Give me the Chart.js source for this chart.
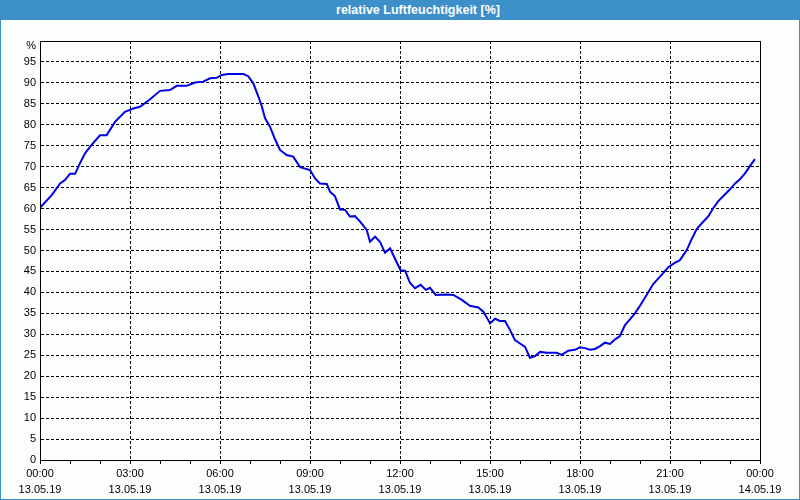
<!DOCTYPE html>
<html>
<head>
<meta charset="utf-8">
<script src="https://cdn.jsdelivr.net/npm/chart.js@4"></script>
<style>
  body { margin:0; background:#fcfefe; }
  #wrap { position:relative; width:800px; height:500px; }
  #head { position:absolute; left:0; top:0; width:800px; height:20px; background:#3c8fc8;
          color:#fff; font:bold 12.5px "Liberation Sans", sans-serif; line-height:20px;
          text-align:center; box-sizing:border-box; padding-left:36px; }
  #frame { position:absolute; left:0; top:0; width:800px; height:500px; box-sizing:border-box;
           border:1px solid #3c8fc8; pointer-events:none; }
  canvas { position:absolute; left:0; top:0; }
</style>
</head>
<body>
<div id="wrap">
  <canvas id="myChart" width="800" height="500"></canvas>
  <div id="head">relative Luftfeuchtigkeit [%]</div>
  <div id="frame"></div>
</div>
<script>
// hours after 13.05.19 00:00
const hours = [0,0.39,0.67,0.83,1.0,1.17,1.33,1.5,1.72,2.0,2.22,2.5,2.83,3.11,3.33,3.67,4.0,4.33,4.56,4.89,
  5.17,5.44,5.67,5.89,6.06,6.28,6.78,6.94,7.11,7.28,7.39,7.5,7.67,7.83,8.0,8.22,8.44,8.67,9.0,9.17,
  9.33,9.56,9.67,9.83,10.0,10.17,10.33,10.5,10.67,10.89,11.0,11.17,11.33,11.5,11.67,11.83,12.02,12.17,12.33,12.5,
  12.69,12.86,13.0,13.19,13.56,13.78,14.06,14.33,14.61,14.78,14.91,15.0,15.17,15.33,15.5,15.67,15.83,16.0,16.17,16.33,
  16.5,16.67,16.89,17.22,17.39,17.61,17.83,18.0,18.17,18.33,18.5,18.67,18.83,19.0,19.17,19.33,19.5,19.67,19.83,20.0,
  20.22,20.44,20.72,20.94,21.17,21.33,21.56,21.72,21.89,22.06,22.28,22.44,22.61,22.78,23.0,23.17,23.33,23.5,23.67,23.83];
const humidity = [60.2,63.2,66.0,66.8,68.3,68.3,70.8,73.2,75.2,77.5,77.5,80.7,83.1,83.9,84.3,86.1,88.1,88.3,89.3,89.3,
  90.1,90.3,91.1,91.2,91.9,92.1,92.1,91.6,89.9,86.7,84.5,81.6,79.5,76.6,74.0,72.8,72.4,69.9,69.2,67.2,
  66.0,65.9,64.0,63.0,59.8,59.7,58.1,58.2,56.9,54.9,52.1,53.3,52.1,49.5,50.5,48.1,45.3,45.2,42.3,41.0,
  41.8,40.6,41.1,39.4,39.5,39.4,38.2,36.8,36.4,35.4,33.8,32.6,33.7,33.2,33.2,31.0,28.6,27.8,27.0,24.4,
  24.8,25.8,25.6,25.6,25.1,26.1,26.3,26.9,26.7,26.3,26.5,27.2,28.0,27.7,28.8,29.6,32.2,33.6,35.0,36.8,
  39.4,42.0,44.2,46.0,47.1,47.7,50.1,52.7,55.1,56.5,58.2,60.1,61.8,63.0,64.6,66.0,67.0,68.4,70.2,71.8];
const tickTimes = ['00:00','03:00','06:00','09:00','12:00','15:00','18:00','21:00','00:00'];
const tickDates = ['13.05.19','13.05.19','13.05.19','13.05.19','13.05.19','13.05.19','13.05.19','13.05.19','14.05.19'];

const points = hours.map((h,i)=>({x:h, y:humidity[i]}));

const boxPlugin = {
  id:'box',
  afterDraw(chart){
    const a = chart.chartArea, ctx = chart.ctx;
    ctx.save();
    ctx.strokeStyle = '#000';
    ctx.lineWidth = 1;
    ctx.strokeRect(a.left+0.5, a.top+0.5, a.right-a.left, a.bottom-a.top);
    ctx.fillStyle = '#000';
    ctx.font = '11px "Liberation Sans", sans-serif';
    ctx.textAlign = 'right';
    ctx.textBaseline = 'middle';
    ctx.fillText('%', a.left-4, a.top+5);
    ctx.restore();
  }
};

const font = {family:'"Liberation Sans", sans-serif', size:11};

new Chart(document.getElementById('myChart').getContext('2d'),{
  type:'line',
  data:{
    datasets:[{
      data:points,
      borderColor:'#0000e6',
      borderWidth:2,
      pointRadius:0,
      tension:0,
      fill:false
    }]
  },
  options:{
    responsive:false,
    animation:false,
    layout:{padding:{left:0, right:40, top:41, bottom:0}},
    plugins:{legend:{display:false}, tooltip:{enabled:false}, title:{display:false}},
    scales:{
      x:{
        type:'linear', min:0, max:24,
        afterFit(scale){ scale.height = 40; },
        ticks:{
          stepSize:1, autoSkip:false, maxRotation:0, color:'#000', padding:2,
          font:{...font, lineHeight:1.45},
          callback:(v)=> v%3===0 ? [tickTimes[v/3], tickDates[v/3]] : ''
        },
        grid:{
          color:(ctx)=> (ctx.tick && ctx.tick.value%3===0) ? '#000' : 'rgba(0,0,0,0)',
          tickColor:'#000', tickLength:4, lineWidth:1
        },
        border:{display:true, color:'#000', dash:[3,2]}
      },
      y:{
        min:0, max:100,
        afterFit(scale){ scale.width = 40; },
        ticks:{
          stepSize:5, color:'#000', padding:4, font,
          callback:(v)=> v===100 ? '' : v
        },
        grid:{color:'#000', drawTicks:false, lineWidth:1},
        border:{display:true, color:'#000', dash:[3,2]}
      }
    }
  },
  plugins:[boxPlugin]
});
</script>
</body>
</html>
